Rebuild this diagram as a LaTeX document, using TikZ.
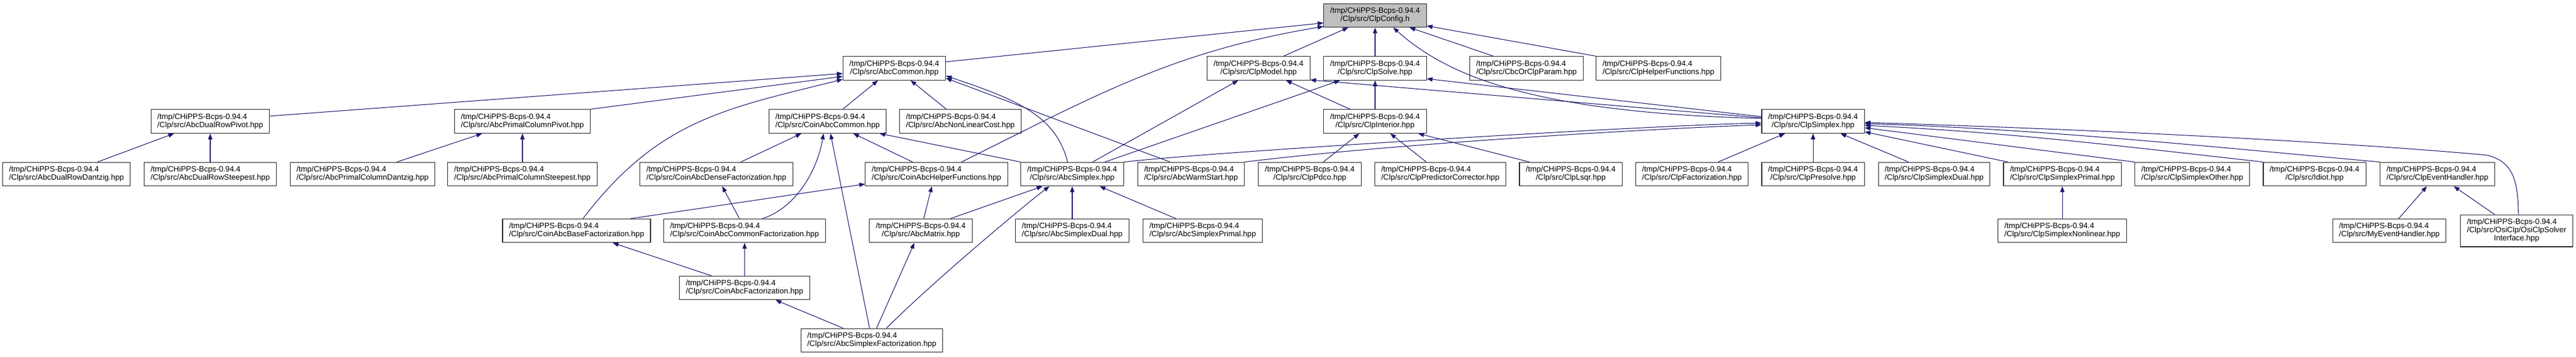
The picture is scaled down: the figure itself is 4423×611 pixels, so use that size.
\documentclass[tikz,border=0pt]{standalone}
\usepackage{fontspec}
\setmainfont{Liberation Sans}
\usetikzlibrary{arrows.meta,calc}
\definecolor{edgeblue}{HTML}{191970}
\definecolor{rootgrey}{HTML}{BFBFBF}
\newcommand{\clpfile}[1]{/tmp/CHiPPS-Bcps-0.94.4\\/Clp/src/#1}
\tikzset{
    hdr/.style={draw=black!85, fill=white, line width=0.8pt, inner xsep=8.25pt, inner ysep=0pt,
                minimum height=30.4pt, font=\fontsize{10pt}{10.5pt}\selectfont, align=center},
    hdrL/.style={hdr, align=left},
    hdrRoot/.style={hdr, fill=rootgrey},
    dep/.style={draw=edgeblue, line width=0.8pt, arrows={Triangle[length=7.5pt,width=5.5pt]-}},
}
\begin{document}
\begin{tikzpicture}[x=0.75pt, y=-0.75pt]
    \useasboundingbox (0,0) rectangle (4423,611);

    % Root
    \node[hdrRoot] (ClpConfig) at (2361,26.3) {\clpfile{ClpConfig.h}};

    % Row 1
    \node[hdr]  (AbcCommon)          at (1535.5,117) {\clpfile{AbcCommon.hpp}};
    \node[hdr]  (ClpModel)           at (2161,117)   {\clpfile{ClpModel.hpp}};
    \node[hdr]  (ClpSolve)           at (2361,117)   {\clpfile{ClpSolve.hpp}};
    \node[hdrL] (CbcOrClpParam)      at (2621,117)   {\clpfile{CbcOrClpParam.hpp}};
    \node[hdrL] (ClpHelperFunctions) at (2847.5,117) {\clpfile{ClpHelperFunctions.hpp}};

    % Row 2
    \node[hdrL] (AbcDualRowPivot)      at (361,208)  {\clpfile{AbcDualRowPivot.hpp}};
    \node[hdrL] (AbcPrimalColumnPivot) at (897,208)  {\clpfile{AbcPrimalColumnPivot.hpp}};
    \node[hdrL] (CoinAbcCommon)        at (1421,208) {\clpfile{CoinAbcCommon.hpp}};
    \node[hdrL] (AbcNonLinearCost)     at (1649,208) {\clpfile{AbcNonLinearCost.hpp}};
    \node[hdr]  (ClpInterior)          at (2361,208) {\clpfile{ClpInterior.hpp}};
    \node[hdr]  (ClpSimplex)           at (3113,208) {\clpfile{ClpSimplex.hpp}};

    % Row 3
    \node[hdrL] (AbcDualRowDantzig)         at (114.3,298.5) {\clpfile{AbcDualRowDantzig.hpp}};
    \node[hdrL] (AbcDualRowSteepest)        at (361,298.5)   {\clpfile{AbcDualRowSteepest.hpp}};
    \node[hdrL] (AbcPrimalColumnDantzig)    at (622.5,298.5) {\clpfile{AbcPrimalColumnDantzig.hpp}};
    \node[hdrL] (AbcPrimalColumnSteepest)   at (897,298.5)   {\clpfile{AbcPrimalColumnSteepest.hpp}};
    \node[hdrL] (CoinAbcDenseFactorization) at (1230,298.5)  {\clpfile{CoinAbcDenseFactorization.hpp}};
    \node[hdrL] (CoinAbcHelperFunctions)    at (1608,298.5)  {\clpfile{CoinAbcHelperFunctions.hpp}};
    \node[hdr]  (AbcSimplex)                at (1841,298.5)  {\clpfile{AbcSimplex.hpp}};
    \node[hdrL] (AbcWarmStart)              at (2045,298.5)  {\clpfile{AbcWarmStart.hpp}};
    \node[hdr]  (ClpPdco)                   at (2249,298.5)  {\clpfile{ClpPdco.hpp}};
    \node[hdrL] (ClpPredictorCorrector)     at (2473,298.5)  {\clpfile{ClpPredictorCorrector.hpp}};
    \node[hdr]  (ClpLsqr)                   at (2697,298.5)  {\clpfile{ClpLsqr.hpp}};
    \node[hdrL] (ClpFactorization)          at (2905,298.5)  {\clpfile{ClpFactorization.hpp}};
    \node[hdr]  (ClpPresolve)               at (3113,298.5)  {\clpfile{ClpPresolve.hpp}};
    \node[hdrL] (ClpSimplexDual)            at (3321,298.5)  {\clpfile{ClpSimplexDual.hpp}};
    \node[hdrL] (ClpSimplexPrimal)          at (3541,298.5)  {\clpfile{ClpSimplexPrimal.hpp}};
    \node[hdrL] (ClpSimplexOther)           at (3764,298.5)  {\clpfile{ClpSimplexOther.hpp}};
    \node[hdr]  (Idiot)                     at (3974,298.5)  {\clpfile{Idiot.hpp}};
    \node[hdrL] (ClpEventHandler)           at (4185,298.5)  {\clpfile{ClpEventHandler.hpp}};

    % Row 4
    \node[hdrL] (CoinAbcBaseFactorization)   at (990,395.5)    {\clpfile{CoinAbcBaseFactorization.hpp}};
    \node[hdrL] (CoinAbcCommonFactorization) at (1278.5,395.5) {\clpfile{CoinAbcCommonFactorization.hpp}};
    \node[hdr]  (AbcMatrix)                  at (1581,395.5)   {\clpfile{AbcMatrix.hpp}};
    \node[hdrL] (AbcSimplexDual)             at (1841,395.5)   {\clpfile{AbcSimplexDual.hpp}};
    \node[hdrL] (AbcSimplexPrimal)           at (2065,395.5)   {\clpfile{AbcSimplexPrimal.hpp}};
    \node[hdrL] (ClpSimplexNonlinear)        at (3541,395.5)   {\clpfile{ClpSimplexNonlinear.hpp}};
    \node[hdrL] (MyEventHandler)             at (4102.5,395.5) {\clpfile{MyEventHandler.hpp}};
    \node[hdrL, minimum height=41.2pt] (OsiClpSolverInterface) at (4321,395.5)
        {\clpfile{OsiClp/OsiClpSolver}\\\hspace*{34.7pt}Interface.hpp};

    % Rows 5 and 6
    \node[hdrL] (CoinAbcFactorization)    at (1278.5,493.5) {\clpfile{CoinAbcFactorization.hpp}};
    \node[hdrL] (AbcSimplexFactorization) at (1497,583.5)   {\clpfile{AbcSimplexFactorization.hpp}};

    % Into ClpConfig.h
    \draw[dep] ($(ClpConfig.west)+(0,13)$) -- ($(AbcCommon.east)+(0,-11)$);
    \draw[dep] ($(ClpConfig.west)+(0,19)$) .. controls +(-250,42) and +(250,-125) .. ($(CoinAbcHelperFunctions.north)+(43,0)$);
    \draw[dep] ($(ClpConfig.south)+(-46,0)$) -- ($(ClpModel.north)+(43,0)$);
    \draw[dep] (ClpConfig) -- (ClpSolve);
    \draw[dep] ($(ClpConfig.south)+(31,0)$) .. controls +(90,80) and +(-400,-10) .. ($(ClpSimplex.west)+(0,-5)$);
    \draw[dep] ($(ClpConfig.south)+(59,0)$) -- ($(CbcOrClpParam.north)+(-57,0)$);
    \draw[dep] ($(ClpConfig.east)+(0,18)$) -- (ClpHelperFunctions.north west);

    % Into AbcCommon.hpp
    \draw[dep] ($(AbcCommon.west)+(0,9)$) -- ($(AbcDualRowPivot.east)+(0,-9)$);
    \draw[dep] ($(AbcCommon.west)+(0,14)$) -- (AbcPrimalColumnPivot.north east);
    \draw[dep] ($(AbcCommon.west)+(0,19)$) .. controls +(-200,50) and +(130,-170) .. ($(CoinAbcBaseFactorization.north)+(11,0)$);
    \draw[dep] ($(AbcCommon.south)+(-28,0)$) -- ($(CoinAbcCommon.north)+(26,0)$);
    \draw[dep] ($(AbcCommon.south)+(28,0)$) -- ($(AbcNonLinearCost.north)+(-24,0)$);
    \draw[dep] ($(AbcCommon.east)+(0,13)$) .. controls +(120,40) and +(-20,-80) .. ($(AbcSimplex.north)+(-8,0)$);
    \draw[dep] ($(AbcCommon.east)+(0,17)$) -- ($(AbcWarmStart.north)+(-36,0)$);

    % Pivot rules
    \draw[dep] ($(AbcDualRowPivot.south)+(-62,0)$) -- ($(AbcDualRowDantzig.north)+(53,0)$);
    \draw[dep] (AbcDualRowPivot) -- (AbcDualRowSteepest);
    \draw[dep] ($(AbcPrimalColumnPivot.south)+(-69,0)$) -- ($(AbcPrimalColumnDantzig.north)+(59,0)$);
    \draw[dep] (AbcPrimalColumnPivot) -- (AbcPrimalColumnSteepest);

    % Into CoinAbcCommon.hpp
    \draw[dep] ($(CoinAbcCommon.south)+(-45,0)$) -- ($(CoinAbcDenseFactorization.north)+(42,0)$);
    \draw[dep] ($(CoinAbcCommon.south)+(-7,0)$) .. controls +(-10,60) and +(60,-20) .. ($(CoinAbcCommonFactorization.north)+(31,0)$);
    \draw[dep] ($(CoinAbcCommon.south)+(5,0)$) -- ($(AbcSimplexFactorization.north)+(-4,0)$);
    \draw[dep] ($(CoinAbcCommon.south)+(44,0)$) -- ($(CoinAbcHelperFunctions.north)+(-41,0)$);
    \draw[dep] ($(CoinAbcCommon.south)+(89,0)$) -- (AbcSimplex.north west);

    % Helper functions and AbcSimplex
    \draw[dep] ($(CoinAbcHelperFunctions.west)+(0,17)$) -- ($(CoinAbcBaseFactorization.north)+(93,0)$);
    \draw[dep] ($(CoinAbcHelperFunctions.south)+(-8,0)$) -- ($(AbcMatrix.north)+(5,0)$);
    \draw[dep] ($(AbcSimplex.south)+(-51,0)$) -- ($(AbcMatrix.north)+(51,0)$);
    \draw[dep] ($(AbcSimplex.south)+(-39,0)$) .. controls +(-40,30) and +(80,-80) .. ($(AbcSimplexFactorization.north)+(25,0)$);
    \draw[dep] (AbcSimplex) -- (AbcSimplexDual);
    \draw[dep] ($(AbcSimplex.south)+(47,0)$) -- ($(AbcSimplexPrimal.north)+(-46,0)$);

    % Factorizations
    \draw[dep] ($(CoinAbcDenseFactorization.south)+(10,0)$) -- ($(CoinAbcCommonFactorization.north)+(-9,0)$);
    \draw[dep] ($(CoinAbcBaseFactorization.south)+(62,0)$) -- ($(CoinAbcFactorization.north)+(-57,0)$);
    \draw[dep] (CoinAbcCommonFactorization) -- (CoinAbcFactorization);
    \draw[dep] ($(CoinAbcFactorization.south)+(53,0)$) -- ($(AbcSimplexFactorization.north)+(-49,0)$);
    \draw[dep] ($(AbcMatrix.south)+(-11,0)$) -- ($(AbcSimplexFactorization.north)+(8,0)$);

    % ClpModel, ClpSolve, ClpInterior
    \draw[dep] ($(ClpModel.south)+(-35,0)$) -- ($(AbcSimplex.north)+(35,0)$);
    \draw[dep] ($(ClpModel.south)+(47,0)$) -- ($(ClpInterior.north)+(-43,0)$);
    \draw[dep] ($(ClpModel.east)+(0,20)$) -- ($(ClpSimplex.west)+(0,-6)$);
    \draw[dep] ($(ClpSolve.south)+(-60,0)$) -- ($(AbcSimplex.north)+(56,0)$);
    \draw[dep] (ClpSolve) -- (ClpInterior);
    \draw[dep] ($(ClpSolve.east)+(0,18)$) -- ($(ClpSimplex.west)+(0,-8)$);
    \draw[dep] ($(ClpInterior.south)+(-27,0)$) -- ($(ClpPdco.north)+(23,0)$);
    \draw[dep] ($(ClpInterior.south)+(26,0)$) -- ($(ClpPredictorCorrector.north)+(-24,0)$);
    \draw[dep] ($(ClpInterior.south)+(74,0)$) -- ($(ClpLsqr.north)+(-71,0)$);

    % Into ClpSimplex.hpp
    \draw[dep] ($(ClpSimplex.west)+(0,3)$) .. controls +(-175,3) and +(170,-19) .. (AbcSimplex.north east);
    \draw[dep] ($(ClpSimplex.west)+(0,6)$) .. controls +(-175,6) and +(260,-32) .. (AbcWarmStart.north east);
    \draw[dep] ($(ClpSimplex.south)+(-48,0)$) -- ($(ClpFactorization.north)+(45,0)$);
    \draw[dep] (ClpSimplex) -- (ClpPresolve);
    \draw[dep] ($(ClpSimplex.south)+(47,0)$) -- ($(ClpSimplexDual.north)+(-44,0)$);
    \draw[dep] ($(ClpSimplex.east)+(0,18)$) -- ($(ClpSimplexPrimal.north west)+(8,0)$);
    \draw[dep] ($(ClpSimplex.east)+(0,11)$) -- (ClpSimplexOther.north west);
    \draw[dep] ($(ClpSimplex.east)+(0,7)$) .. controls +(250,12) and +(-250,-28) .. (Idiot.north west);
    \draw[dep] ($(ClpSimplex.east)+(0,4)$) .. controls +(300,9) and +(-300,-27) .. (ClpEventHandler.north west);
    \coordinate (osiBend) at (4270,266);
    \draw[dep] ($(ClpSimplex.east)+(0,2)$) .. controls +(500,15) and +(-170,-16) .. (osiBend)
        .. controls +(40,10) and +(0,-66) .. ($(OsiClpSolverInterface.north)+(3,0)$);

    % Lower Clp headers
    \draw[dep] (ClpSimplexPrimal) -- (ClpSimplexNonlinear);
    \draw[dep] ($(ClpEventHandler.south)+(-18,0)$) -- ($(MyEventHandler.north)+(16,0)$);
    \draw[dep] ($(ClpEventHandler.south)+(28,0)$) -- ($(OsiClpSolverInterface.north)+(-38,0)$);
\end{tikzpicture}
\end{document}
